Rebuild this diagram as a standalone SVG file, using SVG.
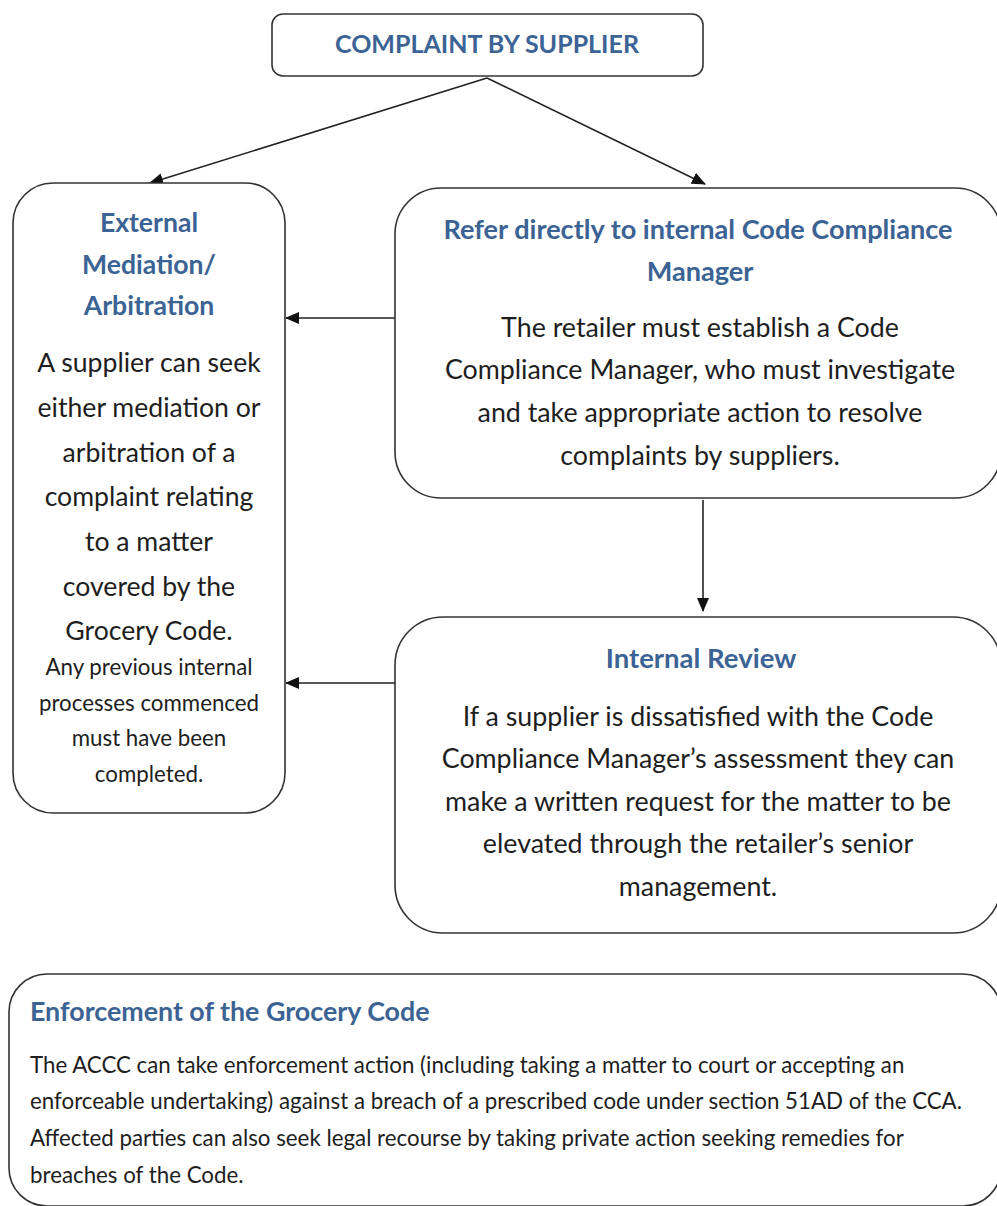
<svg xmlns="http://www.w3.org/2000/svg" width="997" height="1206" viewBox="0 0 997 1206">
<style>
.box{fill:#fff;stroke:#333;stroke-width:1.6}
.ttl{font-family:Lato,"Open Sans","Liberation Sans",sans-serif;font-weight:bold;fill:#3B6394;text-anchor:middle}
.body{font-family:Lato,"Open Sans","Liberation Sans",sans-serif;fill:#1e1e1e;text-anchor:middle}
.con{stroke:#222;stroke-width:1.6;fill:none;marker-end:url(#ah)}
</style>
<defs>
<marker id="ah" markerWidth="14" markerHeight="12" refX="13" refY="6" orient="auto" markerUnits="userSpaceOnUse">
<path d="M0,0 L14,6 L0,12 Z" fill="#111"/>
</marker>
</defs>
<rect width="997" height="1206" fill="#fff"/>
<g id="connectors">
<line class="con" x1="487" y1="78" x2="150" y2="183"/>
<line class="con" x1="487" y1="78" x2="705" y2="184"/>
<line class="con" x1="395" y1="318" x2="286" y2="318"/>
<line class="con" x1="395" y1="683" x2="286" y2="683"/>
<line class="con" x1="703" y1="500" x2="703" y2="611"/>
</g>
<g id="complaint">
<rect class="box" x="272" y="14" width="431" height="62" rx="11"/>
<text class="ttl" x="487" y="53" font-size="25">COMPLAINT BY SUPPLIER</text>
</g>
<g id="external">
<rect class="box" x="13" y="183" width="272" height="630" rx="40"/>
<text class="ttl" font-size="26.6"><tspan x="149" y="232">External</tspan><tspan x="149" y="274">Mediation/</tspan><tspan x="149" y="315">Arbitration</tspan></text>
<text class="body" font-size="26.6"><tspan x="149" y="372">A supplier can seek</tspan><tspan x="149" y="417">either mediation or</tspan><tspan x="149" y="462">arbitration of a</tspan><tspan x="149" y="506">complaint relating</tspan><tspan x="149" y="551">to a matter</tspan><tspan x="149" y="596">covered by the</tspan><tspan x="149" y="640">Grocery Code.</tspan></text>
<text class="body" font-size="22.3"><tspan x="149" y="675">Any previous internal</tspan><tspan x="149" y="711">processes commenced</tspan><tspan x="149" y="746">must have been</tspan><tspan x="149" y="782">completed.</tspan></text>
</g>
<g id="refer">
<rect class="box" x="395" y="188" width="606" height="310" rx="46"/>
<text class="ttl" font-size="27.1"><tspan x="698" y="239">Refer directly to internal Code Compliance</tspan><tspan x="700" y="281">Manager</tspan></text>
<text class="body" font-size="26.8"><tspan x="700" y="337">The retailer must establish a Code</tspan><tspan x="700" y="379">Compliance Manager, who must investigate</tspan><tspan x="700" y="422">and take appropriate action to resolve</tspan><tspan x="700" y="465">complaints by suppliers.</tspan></text>
</g>
<g id="review">
<rect class="box" x="395" y="617" width="606" height="316" rx="48"/>
<text class="ttl" x="701" y="668" font-size="27.5">Internal Review</text>
<text class="body" font-size="26.8"><tspan x="698" y="726">If a supplier is dissatisfied with the Code</tspan><tspan x="698" y="768">Compliance Manager’s assessment they can</tspan><tspan x="698" y="811">make a written request for the matter to be</tspan><tspan x="698" y="853">elevated through  the retailer’s senior</tspan><tspan x="698" y="896">management.</tspan></text>
</g>
<g id="enforcement">
<rect class="box" x="9" y="974" width="992" height="232" rx="38"/>
<text class="ttl" x="30" y="1021" font-size="26.8" style="text-anchor:start">Enforcement of the Grocery Code</text>
<text class="body" font-size="22.3" style="text-anchor:start"><tspan x="30" y="1073">The ACCC can take enforcement  action (including taking a matter to court or accepting an</tspan><tspan x="30" y="1109">enforceable undertaking) against a breach of a prescribed code under section 51AD of the CCA.</tspan><tspan x="30" y="1146">Affected parties can also seek legal recourse by taking private action seeking remedies for</tspan><tspan x="30" y="1183">breaches of the Code.</tspan></text>
</g>
</svg>
